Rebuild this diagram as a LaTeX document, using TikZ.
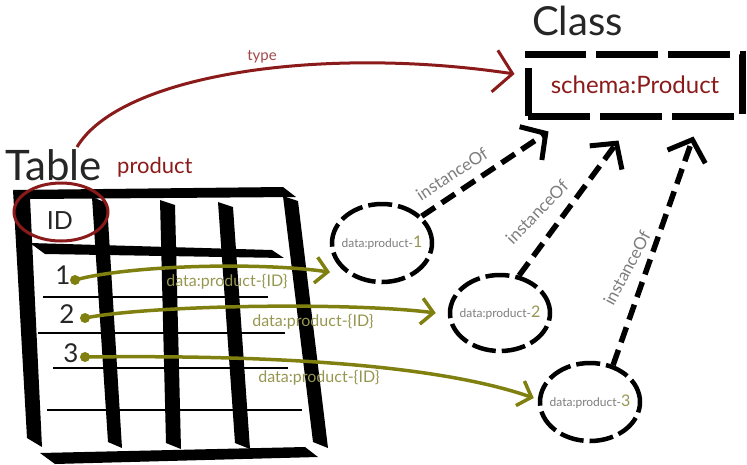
\documentclass[tikz,border=0pt]{standalone}
\usepackage{fontspec}
\setmainfont{Lato}
\usetikzlibrary{shapes.geometric,arrows.meta}
\definecolor{dred}{RGB}{139,26,26}
\definecolor{oli}{RGB}{128,128,16}
\definecolor{olitxt}{RGB}{150,150,80}
\definecolor{gtxt}{RGB}{125,125,125}
\newcommand{\fs}[1]{\fontsize{#1}{#1}\selectfont}
\begin{document}
\begin{tikzpicture}[x=1pt,y=-1pt,
  bar/.style={fill=black,draw=none},
  rowline/.style={line width=1.8pt,black},
  inst/.style={line width=5.5pt,dash pattern=on 16pt off 8pt,
    -{Straight Barb[length=18pt,width=40pt,line width=5pt]}},
  rowarrow/.style={oli,line width=3.5pt,-{Straight Barb[length=12pt,width=26pt,line width=3.5pt]}},
  typearrow/.style={dred,line width=3pt,-{Straight Barb[length=18pt,width=42pt,line width=3pt]}},
  ellnode/.style={ellipse,draw,line width=4.5pt,dash pattern=on 24pt off 6pt,
    minimum width=100pt,minimum height=78pt,inner sep=0pt,
    font=\fs{12},text=gtxt},
  instlbl/.style={text=gtxt,font=\fs{17},inner sep=0pt},
  rowlbl/.style={text=olitxt,font=\fs{16},inner sep=0pt},
  numlbl/.style={font=\fs{26},text=black!85,inner sep=0pt},
  dot/.style={circle,fill=oli,inner sep=0pt,minimum size=10pt}
]
\useasboundingbox (0,0) rectangle (747,464);

% ---- table ----
\fill[bar] (13,190) -- (283,187) -- (296,197) -- (30,199) -- cycle; % top bar
\fill[bar] (13,190) -- (30,198) -- (42,447) -- (27,438) -- cycle;   % left column
\fill[bar] (92,197) -- (107,203) -- (122,448) -- (108,442) -- cycle;
\fill[bar] (160,200) -- (175,205) -- (181,449) -- (166,443) -- cycle;
\fill[bar] (218,202) -- (233,207) -- (250,449) -- (235,443) -- cycle;
\fill[bar] (283,196) -- (298,201) -- (328,448) -- (313,442) -- cycle; % right column
\fill[bar] (30,243) -- (272,250) -- (284,258) -- (45,254) -- cycle;   % header bar
\fill[bar] (40,453) -- (305,447) -- (318,457) -- (55,464) -- cycle;   % bottom bar
\draw[rowline] (43,297) -- (268,297);
\draw[rowline] (38,333) -- (285,333);
\draw[rowline] (53,368) -- (288,368);
\draw[rowline] (47,410) -- (302,410);

% ---- texts of table ----
\node[anchor=base west,inner sep=0pt,font=\fs{42},text=black!85] (tabletxt) at (5,180) {Table};
\node[anchor=base west,inner sep=0pt,font=\fs{22},text=dred] (prod) at (117,173) {product};
\node[font=\fs{25},text=black!85,inner sep=0pt] (id) at (60,221) {ID};
\draw[dred,line width=3pt] (61,212) ellipse[x radius=47,y radius=29];
\coordinate (idc) at (61,212);
\node[numlbl] (n1) at (63,275) {1};
\node[numlbl] (n2) at (67,314) {2};
\node[numlbl] (n3) at (71,353) {3};

% ---- class ----
\node[anchor=base west,inner sep=0pt,font=\fs{40},text=black!85] (classtxt) at (532,35) {Class};
\node[draw,line width=7pt,dash pattern=on 62pt off 10pt,dash phase=0pt,
  minimum width=214pt,minimum height=62pt,font=\fs{24},text=dred] (cls) at (635,85) {schema:Product};

% ---- instances ----
\node[ellnode] (e1) at (382,243) {\makebox[0pt]{data:product-\textcolor{olitxt}{\fs{16}1}}};
\node[ellnode,minimum height=76pt] (e2) at (500,313) {\makebox[0pt]{data:product-\textcolor{olitxt}{\fs{16}2}}};
\node[ellnode] (e3) at (590,402) {\makebox[0pt]{data:product-\textcolor{olitxt}{\fs{16}3}}};

% ---- type arrow ----
\coordinate (typestart) at (77,147);
\draw[typearrow] (typestart) .. controls (120,75) and (320,45) .. ([shift={(-10,-11)}]cls.west);
\node[text=dred!80,font=\fs{15},inner sep=0pt] (typelbl) at (262,57) {type};

% ---- instanceOf arrows ----
\draw[inst] (e1.34) -- ([shift={(24,12)}]cls.south west);
\draw[inst] (e2.63) -- ([shift={(94,21)}]cls.south west);
\draw[inst] (e3.58) -- ([shift={(169,17)}]cls.south west);
\node[instlbl,rotate=33] (i1) at (452,174) {instanceOf};
\node[instlbl,rotate=46] (i2) at (537,212) {instanceOf};
\node[instlbl,rotate=62] (i3) at (627,268) {instanceOf};

% ---- row arrows ----
\node[dot] (d1) at (75,280) {};
\node[dot] (d2) at (85,318) {};
\node[dot] (d3) at (85,357) {};
\draw[rowarrow] (d1.center) .. controls (130,265) and (260,262) .. ([xshift=-15pt]e1.south west);
\draw[rowarrow] (d2.center) .. controls (150,305) and (350,302) .. ([xshift=-12pt]e2.west);
\draw[rowarrow] (d3.center) .. controls (250,355) and (430,362) .. ([shift={(-4,-4)}]e3.west);
\node[rowlbl] (l1) at (227,282) {data:product-\{ID\}};
\node[rowlbl] (l2) at (313,322) {data:product-\{ID\}};
\node[rowlbl] (l3) at (319,378) {data:product-\{ID\}};
\end{tikzpicture}
\end{document}
